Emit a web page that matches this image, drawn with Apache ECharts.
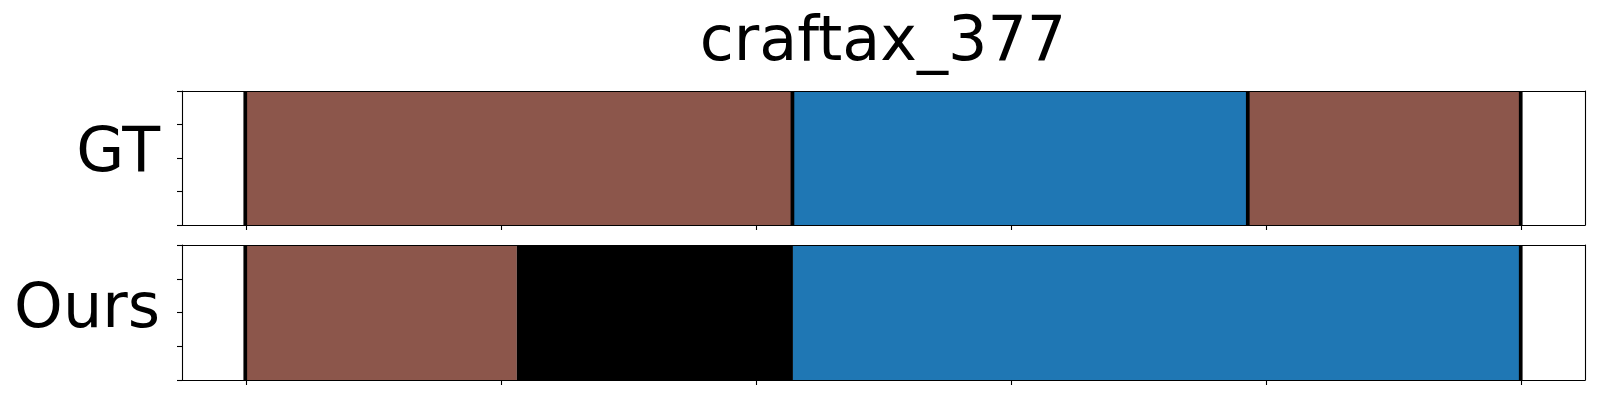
<!DOCTYPE html>
<html>
<head>
<meta charset="utf-8">
<script src="https://cdn.jsdelivr.net/npm/echarts@6/dist/echarts.min.js"></script>
<style>
html,body{margin:0;padding:0;background:#fff;}
#c{width:1600px;height:400px;}
</style>
</head>
<body>
<div id="c"></div>
<script>
// ---- data (x in percent of sequence) ----
const title = 'craftax_377';
const rowLabels = ['GT', 'Ours'];
const classColors = { brown: '#8c564b', blue: '#1f77b4', black: '#000000' };
const gtBounds = [0, 42.9, 78.6, 100];
const gtClasses = ['brown', 'blue', 'brown'];
const gtLines = [0, 42.9, 78.6, 100];
const oursBounds = [0, 21.25, 42.9, 100];
const oursClasses = ['brown', 'black', 'blue'];
const oursLines = [0, 100];
const xTicks = [0, 20, 40, 60, 80, 100];
const xMin = -5, xMax = 105;

function segData(bounds, classes) {
  const out = [];
  for (let i = 0; i < classes.length; i++) {
    out.push({ value: [bounds[i], bounds[i + 1]], cls: classes[i] });
  }
  return out;
}
const gtSegs = segData(gtBounds, gtClasses);
const oursSegs = segData(oursBounds, oursClasses);

function makeSegRender(segs) {
  return function (params, api) {
    const x0 = api.value(0), x1 = api.value(1);
    const p0 = api.coord([x0, 1]);
    const p1 = api.coord([x1, 0]);
    return {
      type: 'rect',
      shape: { x: p0[0], y: p0[1], width: p1[0] - p0[0], height: p1[1] - p0[1] },
      style: { fill: classColors[segs[params.dataIndex].cls] }
    };
  };
}
function lineRender(params, api) {
  const x = api.value(0);
  const a = api.coord([x, 1]);
  const b = api.coord([x, 0]);
  return {
    type: 'line',
    shape: { x1: a[0] - 0.5, y1: a[1], x2: b[0] - 0.5, y2: b[1] },
    style: { stroke: '#000', lineWidth: 3.7 }
  };
}

const FONT = 'DejaVu Sans';
const grids = [
  { left: 182, right: 15, top: 91, height: 134 },
  { left: 182, right: 15, top: 245, height: 135 }
];
const lineStyle = { color: '#000', width: 1.1 };
const xAxes = [], yAxes = [];
grids.forEach((g, i) => {
  xAxes.push({
    type: 'value', gridIndex: i, min: xMin, max: xMax, position: 'bottom', z: 10,
    axisLine: { show: true, onZero: false, lineStyle: lineStyle },
    axisTick: { show: true, customValues: xTicks, length: 5, lineStyle: lineStyle },
    axisLabel: { show: false }, splitLine: { show: false }
  });
  xAxes.push({
    type: 'value', gridIndex: i, min: xMin, max: xMax, position: 'top', z: 10,
    axisLine: { show: true, onZero: false, lineStyle: lineStyle },
    axisTick: { show: false }, axisLabel: { show: false }, splitLine: { show: false }
  });
  yAxes.push({
    type: 'value', gridIndex: i, min: 0, max: 1, interval: 0.25, position: 'left', z: 10,
    axisLine: { show: true, onZero: false, lineStyle: lineStyle },
    axisTick: { show: true, length: 5, lineStyle: lineStyle },
    axisLabel: { show: false }, splitLine: { show: false }
  });
  yAxes.push({
    type: 'value', gridIndex: i, min: 0, max: 1, position: 'right', z: 10,
    axisLine: { show: true, onZero: false, lineStyle: lineStyle },
    axisTick: { show: false }, axisLabel: { show: false }, splitLine: { show: false }
  });
});

const chart = echarts.init(document.getElementById('c'), null, { renderer: 'canvas' });
chart.setOption({
  animation: false,
  backgroundColor: '#fff',
  grid: grids,
  xAxis: xAxes,
  yAxis: yAxes,
  graphic: [
    { type: 'text', x: 883, y: 44, style: { text: title, font: '62px "' + FONT + '"', fill: '#000', textAlign: 'center', textVerticalAlign: 'middle' } },
    { type: 'text', x: 160, y: 155, style: { text: rowLabels[0], font: '62px "' + FONT + '"', fill: '#000', textAlign: 'right', textVerticalAlign: 'middle' } },
    { type: 'text', x: 160, y: 311, style: { text: rowLabels[1], font: '62px "' + FONT + '"', fill: '#000', textAlign: 'right', textVerticalAlign: 'middle' } }
  ],
  series: [
    { type: 'custom', xAxisIndex: 0, yAxisIndex: 0, data: gtSegs, renderItem: makeSegRender(gtSegs), z: 2 },
    { type: 'custom', xAxisIndex: 0, yAxisIndex: 0, data: gtLines.map(v => [v]), renderItem: lineRender, z: 3 },
    { type: 'custom', xAxisIndex: 2, yAxisIndex: 2, data: oursSegs, renderItem: makeSegRender(oursSegs), z: 2 },
    { type: 'custom', xAxisIndex: 2, yAxisIndex: 2, data: oursLines.map(v => [v]), renderItem: lineRender, z: 3 }
  ]
});
</script>
</body>
</html>
